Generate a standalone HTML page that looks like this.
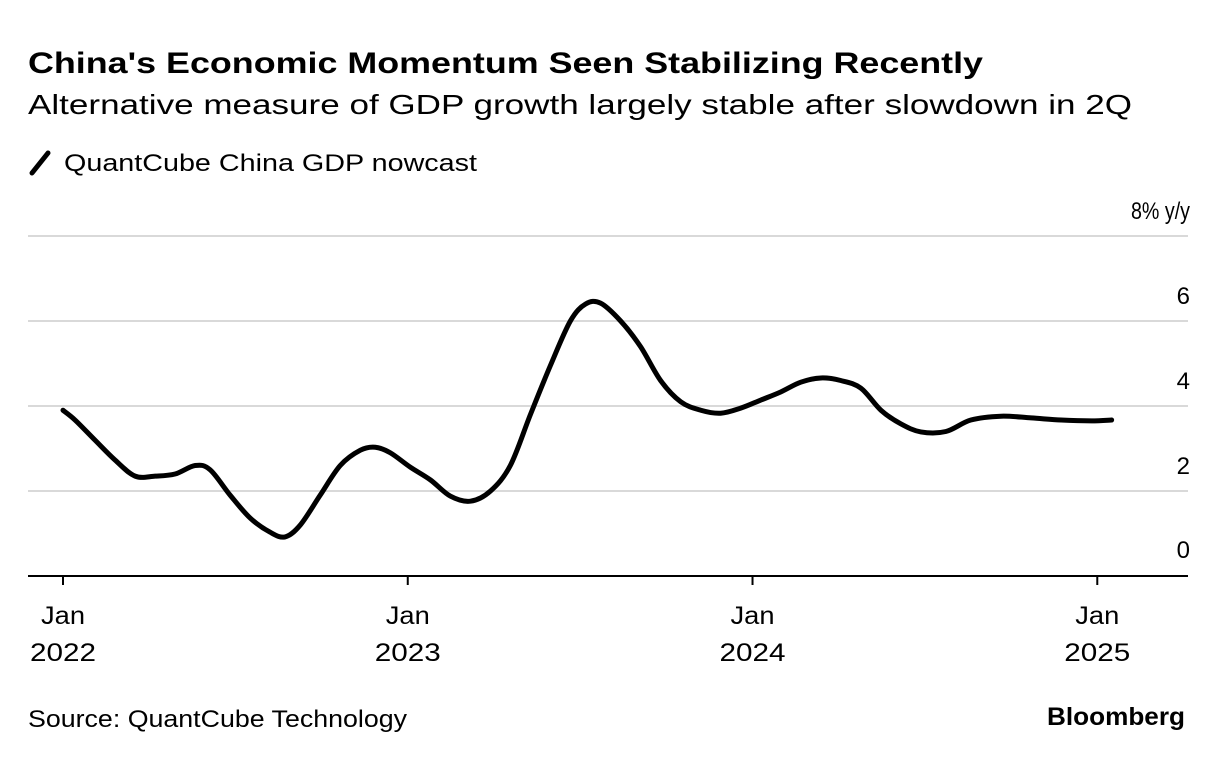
<!DOCTYPE html>
<html><head><meta charset="utf-8">
<style>
body{margin:0;width:1224px;height:776px;background:#fff;font-family:"Liberation Sans",sans-serif;overflow:hidden}
svg text{font-family:"Liberation Sans",sans-serif}
</style></head>
<body>
<svg id="c" width="1224" height="776">
<text x="28" y="73" font-size="30" font-weight="bold" fill="#000" textLength="955" lengthAdjust="spacingAndGlyphs">China's Economic Momentum Seen Stabilizing Recently</text>
<text x="28" y="114" font-size="28" fill="#000" textLength="1104" lengthAdjust="spacingAndGlyphs">Alternative measure of GDP growth largely stable after slowdown in 2Q</text>
<g>
<line x1="32" y1="173" x2="48" y2="153" stroke="#000" stroke-width="5" stroke-linecap="round"/>
<text x="64" y="171" font-size="24" fill="#000" textLength="413" lengthAdjust="spacingAndGlyphs">QuantCube China GDP nowcast</text>
</g>
<text x="28" y="727" font-size="24" fill="#000" textLength="379" lengthAdjust="spacingAndGlyphs">Source: QuantCube Technology</text>
<text x="1185" y="725" font-size="25" font-weight="bold" text-anchor="end" fill="#000" textLength="138" lengthAdjust="spacingAndGlyphs">Bloomberg</text>
<g id="grid"></g><g id="xax"></g><g id="plot"></g>
</svg>
<script>
const months=[0,0.42,1.11,1.81,2.51,3.21,3.9,4.6,5.12,5.82,6.52,7.21,7.73,8.26,8.95,9.65,10.35,10.87,11.39,12.09,12.79,13.48,14.18,14.88,15.57,16.27,16.97,17.66,18.19,18.71,19.41,20.1,20.8,21.5,22.2,22.89,23.59,24.29,24.98,25.68,26.38,27.07,27.77,28.47,29.16,29.86,30.73,31.6,32.65,33.7,34.74,35.8,36.5];
const values=[3.9,3.67,3.2,2.73,2.35,2.35,2.4,2.6,2.5,1.9,1.36,1.03,0.92,1.2,1.9,2.6,2.96,3.03,2.9,2.56,2.26,1.88,1.76,2.0,2.6,3.8,4.96,6.0,6.4,6.42,6.0,5.4,4.6,4.1,3.9,3.83,3.95,4.14,4.33,4.56,4.66,4.6,4.42,3.9,3.58,3.39,3.4,3.67,3.76,3.72,3.67,3.65,3.67];
const yTicks=[0,2,4,6,8];
const yTickLabels=["0","2","4","6","8% y/y"];
const xTicks=[0,12,24,36];
const xTickLabels=[["Jan","2022"],["Jan","2023"],["Jan","2024"],["Jan","2025"]];
const NS="http://www.w3.org/2000/svg";
const xs=m=>63+m*28.73, ys=v=>576-v*42.5;
const grid=document.getElementById('grid'),xax=document.getElementById('xax'),plot=document.getElementById('plot');
yTicks.forEach((t,i)=>{
 if(t>0){const l=document.createElementNS(NS,'line');
 
 
 l.setAttribute('x1',28);l.setAttribute('x2',1188);l.setAttribute('y1',ys(t));l.setAttribute('y2',ys(t));
 l.setAttribute('stroke','#d9d9d9');l.setAttribute('stroke-width','2');grid.appendChild(l);}
 const tx=document.createElementNS(NS,'text');
 
 
 tx.setAttribute('x',1190);tx.setAttribute('y',t==0?ys(t)-18:ys(t)-17);tx.setAttribute('text-anchor','end');tx.setAttribute('font-size','24');
 if(t==8){tx.setAttribute('textLength','59');tx.setAttribute('lengthAdjust','spacingAndGlyphs');}
 tx.textContent=yTickLabels[i];grid.appendChild(tx);
});
const ax=document.createElementNS(NS,'line');


ax.setAttribute('x1',28);ax.setAttribute('x2',1188);ax.setAttribute('y1',576);ax.setAttribute('y2',576);ax.setAttribute('stroke','#000');ax.setAttribute('stroke-width','2');xax.appendChild(ax);
xTicks.forEach((m,i)=>{
 const l=document.createElementNS(NS,'line');
 
 
 l.setAttribute('x1',xs(m));l.setAttribute('x2',xs(m));l.setAttribute('y1',576);l.setAttribute('y2',585);l.setAttribute('stroke','#000');l.setAttribute('stroke-width','2');xax.appendChild(l);
 xTickLabels[i].forEach((s,j)=>{const t=document.createElementNS(NS,'text');
 
 
 t.setAttribute('x',xs(m));t.setAttribute('y',624+j*37);t.setAttribute('text-anchor','middle');t.setAttribute('font-size','25');
 t.setAttribute('textLength',j?66:44);t.setAttribute('lengthAdjust','spacingAndGlyphs');
 t.textContent=s;xax.appendChild(t);});
});
const P=months.map((m,i)=>[xs(m),ys(values[i])]);
let d='M'+P[0][0]+','+P[0][1];
for(let i=0;i<P.length-1;i++){const p0=P[i-1]||P[i],p1=P[i],p2=P[i+1],p3=P[i+2]||p2;
 d+=` C${p1[0]+(p2[0]-p0[0])/6},${p1[1]+(p2[1]-p0[1])/6} ${p2[0]-(p3[0]-p1[0])/6},${p2[1]-(p3[1]-p1[1])/6} ${p2[0]},${p2[1]}`;}
const path=document.createElementNS(NS,'path');


path.setAttribute('d',d);path.setAttribute('fill','none');path.setAttribute('stroke','#000');path.setAttribute('stroke-width','5');path.setAttribute('stroke-linejoin','round');path.setAttribute('stroke-linecap','round');
plot.appendChild(path);
</script>
</body></html>
